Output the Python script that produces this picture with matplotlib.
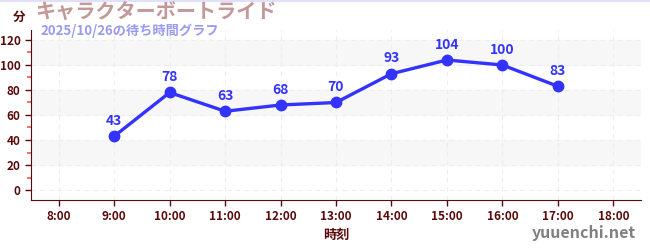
import matplotlib.pyplot as plt
from matplotlib.ticker import MultipleLocator

plt.rcParams['font.family'] = ['Noto Sans CJK JP', 'DejaVu Sans']

# データ
hours = [9, 10, 11, 12, 13, 14, 15, 16, 17]
waits = [43, 78, 63, 68, 70, 93, 104, 100, 83]
xticks = list(range(8, 19))
xlabels = ['%d:00' % h for h in xticks]
yticks = [0, 20, 40, 60, 80, 100, 120]

axis_col = '#5a0a0a'
line_col = '#3333ff'

fig = plt.figure(figsize=(6.5, 2.5), dpi=100)
ax = fig.add_axes([31 / 650, 50 / 250, 610 / 650, 170 / 250])

# 背景の帯
for lo in [20, 60, 100]:
    ax.axhspan(lo, lo + 20, color='#f7f7f7', zorder=0)

ax.plot(hours, waits, color=line_col, linewidth=2.4, marker='o', markersize=7.5, zorder=3)
for h, w in zip(hours, waits):
    ax.annotate(str(w), (h, w), xytext=(0, 6), textcoords='offset points', ha='center',
                va='bottom', color=line_col, fontsize=10, fontweight='bold')

ax.set_xlim(7.5, 18.5)
ax.set_ylim(-8, 128)
ax.set_xticks(xticks)
ax.set_xticklabels(xlabels)
ax.set_yticks(yticks)
ax.yaxis.set_minor_locator(MultipleLocator(10))
ax.grid(True, which='major', color='#ededed', linestyle=(0, (4, 4)), linewidth=0.8, zorder=1)

ax.spines['top'].set_visible(False)
ax.spines['right'].set_visible(False)
ax.spines['left'].set_color(axis_col)
ax.spines['bottom'].set_color(axis_col)
ax.tick_params(axis='both', colors=axis_col, labelsize=8.5, length=4, width=1)
ax.tick_params(axis='y', which='minor', colors='#ee5555', length=3, width=1.2)
for lab in ax.get_xticklabels() + ax.get_yticklabels():
    lab.set_fontweight('bold')
    lab.set_color(axis_col)

ax.set_xlabel('時刻', color=axis_col, fontsize=9.5, fontweight='bold', labelpad=3)

fig.text(13 / 650, 17 / 250, '分', color=axis_col, fontsize=9, fontweight='bold', ha='left', va='center')
fig.text(35 / 650, 12 / 250, 'キャラクターボートライド', color='#c49898', fontsize=14.5,
         fontweight='bold', ha='left', va='center')
fig.text(40 / 650, 31 / 250, '2025/10/26の待ち時間グラフ', color='#9a9af0', fontsize=9.5,
         fontweight='bold', ha='left', va='center')
fig.text(636 / 650, 233 / 250, 'yuuenchi.net', color='#808080', fontsize=11.5,
         fontweight='bold', ha='right', va='center')

# 上端の線
fig.add_artist(plt.Line2D([0, 1], [0.998, 0.998], color='#e0e0f8', linewidth=1.5))

# y座標は上から
for t in fig.texts:
    x, y = t.get_position()
    t.set_position((x, 1 - y))

fig.savefig('out.png', dpi=100)
